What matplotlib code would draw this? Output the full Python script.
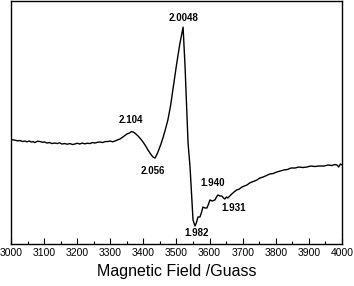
import matplotlib
matplotlib.use("Agg")
import matplotlib.pyplot as plt
from matplotlib.ticker import MultipleLocator

plt.rcParams['font.family'] = ['Liberation Sans', 'DejaVu Sans']

# EPR spectrum (field in G, signal in arbitrary units)
field = [3000, 3010, 3020, 3027, 3035, 3042, 3048, 3055, 3062, 3066, 3072, 3080,
         3088, 3095, 3102, 3109, 3116, 3124, 3133, 3140, 3147, 3154, 3162, 3170,
         3178, 3186, 3193, 3200, 3208, 3215, 3223, 3231, 3239, 3246, 3254, 3262,
         3269, 3277, 3285, 3293, 3300, 3307, 3314, 3321, 3329, 3338, 3350, 3358,
         3364, 3369, 3376, 3384, 3392, 3399, 3407, 3414, 3422, 3429, 3435, 3440,
         3444, 3452, 3459, 3466, 3474, 3482, 3490, 3500, 3510, 3518, 3520, 3526,
         3535, 3541, 3550, 3556, 3560, 3565, 3571, 3576, 3580, 3586, 3592, 3597,
         3601, 3608, 3616, 3621, 3625, 3631, 3637, 3642, 3646, 3651, 3655, 3661,
         3667, 3674, 3682, 3690, 3698, 3705, 3713, 3721, 3728, 3736, 3743, 3752,
         3762, 3772, 3782, 3792, 3803, 3813, 3824, 3835, 3846, 3858, 3870, 3882,
         3894, 3906, 3918, 3930, 3946, 3958, 3970, 3978, 3985, 3990, 3995, 4000]
signal = [0.5, 0, -0.8, -0.5, -1.5, -1, -1.8, -1, -2, -1.5, -2.5, -1.2,
          -1.5, -2.2, -2, -3, -2.5, -3.5, -3, -3.5, -2.8, -4, -3.5, -4.2,
          -3.5, -4.5, -4, -3.2, -4, -3, -3.8, -3.2, -3.5, -2.5, -3, -2.2,
          -2, -2.5, -1.5, -1.5, -1, -1.8, -1, 0, 1, 3, 6, 7,
          8.5, 8, 6.5, 4, 1, -2, -6, -10, -14, -17, -18, -15,
          -12, -5, 2, 10, 20, 34, 52, 75, 96, 110, 113, 73,
          -3, -27, -80, -86, -83, -77, -77, -72, -67, -68, -68, -64,
          -60, -61, -60, -57, -55, -56, -56, -58, -59, -57, -58, -56,
          -54, -52, -50, -49, -47, -46, -45, -43, -42, -41, -40, -38,
          -37, -35.5, -34, -33.5, -32, -31, -30, -29.5, -28, -28, -27, -27.5,
          -27, -26, -26.5, -26, -26, -25, -25.5, -24.5, -25, -27, -24, -25]

# g-value labels: text, x position (G), y position (a.u.)
g_labels = ["2.0048", "2.104", "2.056", "1.982", "1.940", "1.931"]
g_x = [3520, 3363, 3429, 3560, 3610, 3672]
g_y = [122, 20, -31, -93, -43, -68]

fig = plt.figure(figsize=(3.54, 2.86), dpi=100)
ax = fig.add_axes([0.031, 0.147, 0.935, 0.849])

ax.plot(field, signal, color='black', lw=1.0)

for txt, x, y in zip(g_labels, g_x, g_y):
    ax.text(x, y, txt, fontsize=7, fontweight='bold', ha='center', va='center')

ax.set_xlim(3000, 4000)
ax.set_ylim(-104, 139)
ax.xaxis.set_major_locator(MultipleLocator(100))
ax.xaxis.set_minor_locator(MultipleLocator(50))
ax.tick_params(axis='x', which='major', direction='in', length=4, width=0.8,
               labelsize=7.5, pad=3)
ax.tick_params(axis='x', which='minor', direction='in', length=2, width=0.8)
ax.set_yticks([])
for sp in ax.spines.values():
    sp.set_linewidth(1.0)

ax.set_xlabel("Magnetic Field /Guass", fontsize=11.5, labelpad=4)

fig.savefig("out.png", dpi=100)
